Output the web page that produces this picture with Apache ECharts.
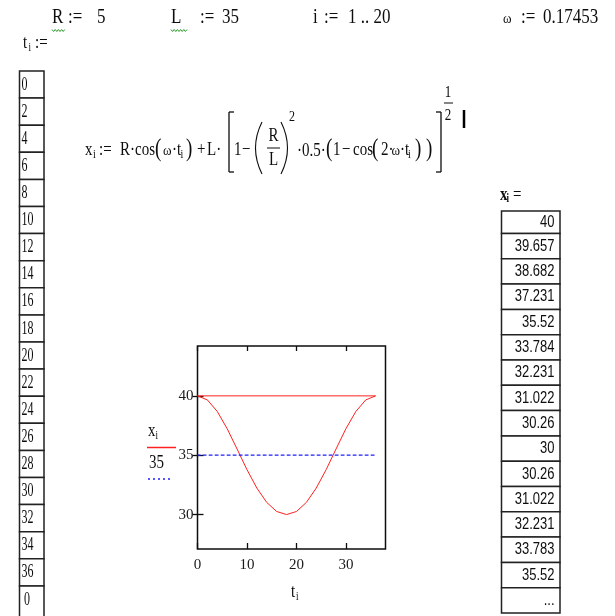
<!DOCTYPE html>
<html>
<head>
<meta charset="utf-8">
<title>Kurbeltrieb x(t)</title>
<script src="https://cdn.jsdelivr.net/npm/echarts@6/dist/echarts.min.js"></script>
<style>
  html, body { margin: 0; padding: 0; background: #fff; }
  #chart { width: 615px; height: 616px; }
</style>
</head>
<body>
<div id="chart"></div>
<script>
// worksheet data
const tValues = [0, 2, 4, 6, 8, 10, 12, 14, 16, 18, 20, 22, 24, 26, 28, 30, 32, 34, 36, 0];
const xValues = [40, 39.657, 38.682, 37.231, 35.52, 33.784, 32.231, 31.022, 30.26, 30,
  30.26, 31.022, 32.231, 33.783, 35.52, 37.231, 38.682, 39.657, 40, 40];
const refValues = [35, 35, 35, 35, 35, 35, 35, 35, 35, 35, 35, 35, 35, 35, 35, 35, 35, 35, 35, 35];
const xTableRows = 15; // rows shown in the x_i result table before "..."
const xTicks = [0, 10, 20, 30];
const yTicks = [30, 35, 40];

const SERIF = '"Liberation Serif", "Times New Roman", serif';
const SANS = '"Liberation Sans", Arial, sans-serif';
const INK = '#0d0d0d';

const chart = echarts.init(document.getElementById('chart'));

// small helpers for the worksheet text around the plot
function txt(text, x, y, size, o) {
  o = o || {};
  const align = o.align || 'left';
  return {
    type: 'text', x: x, y: y, scaleY: o.sy || 1.3, silent: true,
    style: {
      text: text, fill: o.color || INK,
      align: align, textAlign: align,
      verticalAlign: 'middle', textVerticalAlign: 'middle',
      font: (o.bold ? 'bold ' : '') + size + 'px ' + (o.family || SERIF)
    }
  };
}

function seg(x1, y1, x2, y2, w, color, dash) {
  return {
    type: 'line', silent: true,
    shape: { x1: x1, y1: y1, x2: x2, y2: y2 },
    style: { stroke: color || INK, lineWidth: w || 1, lineDash: dash || null }
  };
}

function paren(x1, y1, y2, cx) {
  return {
    type: 'bezierCurve', silent: true,
    shape: { x1: x1, y1: y1, x2: x1, y2: y2, cpx1: cx, cpy1: (y1 + y2) / 2 },
    style: { stroke: INK, lineWidth: 1.1, fill: null }
  };
}

function squiggle(x0, x1, y) {
  const pts = [];
  let up = true;
  for (let x = x0; x <= x1; x += 1.6) {
    pts.push([x, up ? y - 1 : y + 1]);
    up = !up;
  }
  return { type: 'polyline', silent: true, shape: { points: pts }, style: { stroke: '#2a9a2a', lineWidth: 1 } };
}

const g = [];

// top line of definitions
[['R', 52], [':=', 68], ['5', 97], ['L', 171], [':=', 200], ['35', 222],
 ['i', 313], [':=', 324], ['1 .. 20', 348], [':=', 521], ['0.17453', 543]].forEach(function (p) {
  g.push(txt(p[0], p[1], 18, 17, { sy: 1.2 }));
});
g.push(txt('ω', 503, 19, 13, { sy: 1.1 }));
g.push(squiggle(52, 66, 30.5));
g.push(squiggle(171, 187, 30.5));

// t_i :=  header + input table
g.push(txt('t', 23, 43, 15));
g.push(txt('i', 28.5, 48, 9));
g.push(txt(':=', 35, 43, 15));
const tRowH = 27.1;
tValues.forEach(function (v, k) {
  const top = 71 + k * tRowH;
  const last = k === tValues.length - 1;
  g.push({ type: 'rect', silent: true, shape: { x: 19.5, y: top, width: 24.5, height: last ? 40 : tRowH },
    style: { fill: '#fff', stroke: '#222', lineWidth: 1.5 } });
  g.push(txt(String(v), last ? 24 : 21.5, top + 13.6, 12, { sy: 1.6 }));
});

// formula x_i := R cos(w t_i) + L [1 - (R/L)^2 0.5 (1 - cos(2 w t_i))]^(1/2)
const fy = 150;
g.push(txt('x', 85, fy, 15));
g.push(txt('i', 93, fy + 5, 10));
g.push(txt(':=', 99, fy, 15));
g.push(txt('R·cos', 120, fy, 15));
g.push(txt('(', 155, fy - 1, 19, { sy: 1.35 }));
g.push(txt('ω', 163, fy + 1, 13, { sy: 1.1 }));
g.push(txt('·t', 172, fy, 15));
g.push(txt('i', 180.5, fy + 5, 10));
g.push(txt(')', 186, fy - 1, 19, { sy: 1.35 }));
g.push(txt('+', 197, fy, 15));
g.push(txt('L·', 207, fy, 15));
g.push(seg(229, 112, 229, 172, 1.3));
g.push(seg(229, 112, 234, 112, 1.3));
g.push(seg(229, 172, 234, 172, 1.3));
g.push(txt('1', 234, fy, 15));
g.push(txt('−', 242, fy, 15));
g.push(paren(262, 122, 174, 249));
g.push(txt('R', 273.5, 136, 15, { align: 'center' }));
g.push(seg(267, 148, 280, 148, 1));
g.push(txt('L', 273.5, 160, 15, { align: 'center' }));
g.push(paren(281, 122, 174, 294));
g.push(txt('2', 289, 117, 12));
g.push(txt('·0.5·', 297, fy + 1, 15));
g.push(txt('(', 326, fy - 1, 19, { sy: 1.35 }));
g.push(txt('1', 333, fy, 15));
g.push(txt('−', 342, fy, 15));
g.push(txt('cos', 353, fy, 15));
g.push(txt('(', 372, fy - 1, 19, { sy: 1.35 }));
g.push(txt('2·', 381, fy, 15));
g.push(txt('ω', 391.5, fy + 1, 13, { sy: 1.1 }));
g.push(txt('·t', 400, fy, 15));
g.push(txt('i', 408, fy + 5, 10));
g.push(txt(')', 415, fy - 1, 19, { sy: 1.35 }));
g.push(txt(')', 426, fy - 1, 19, { sy: 1.35 }));
g.push(seg(441, 112, 441, 172, 1.3));
g.push(seg(436, 112, 441, 112, 1.3));
g.push(seg(436, 172, 441, 172, 1.3));
g.push(txt('1', 448, 93, 13, { align: 'center' }));
g.push(seg(444, 103, 453, 103, 1));
g.push(txt('2', 448, 116, 13, { align: 'center' }));
g.push(seg(464, 110, 464, 128, 2.5, '#000'));

// x_i =  result table
g.push(txt('x', 500, 195, 15, { bold: true }));
g.push(txt('i', 506.5, 199, 9, { bold: true }));
g.push(txt('=', 513, 195, 15));
for (let k = 0; k <= xTableRows; k++) {
  const top = k === 0 ? 211 : 233.5 + (k - 1) * 25.3;
  const h = k === 0 ? 22.5 : 25.3;
  g.push({ type: 'rect', silent: true, shape: { x: 501.5, y: top, width: 58.5, height: h },
    style: { fill: '#fff', stroke: '#222', lineWidth: 1.5 } });
  const label = k < xTableRows ? String(xValues[k]) : '...';
  g.push(txt(label, 554.5, top + h / 2, 13, { align: 'right', family: SANS, sy: 1.3 }));
}

// plot legend (left of the graph) and axis title
g.push(txt('x', 148, 431, 15));
g.push(txt('i', 155.5, 436, 9));
g.push(seg(147, 447.5, 176, 447.5, 1.5, '#ff2020'));
g.push(txt('35', 149, 463.5, 15, { sy: 1.2 }));
g.push(seg(148, 479, 173, 479, 1.3, '#1f1fff', [2, 3]));
g.push(txt('t', 291, 592, 15));
g.push(txt('i', 296, 597, 9));

const tickStyle = { color: INK, width: 1.3 };
const labelStyle = { color: '#1a1a1a', fontFamily: SERIF, fontSize: 15 };

const option = {
  animation: false,
  backgroundColor: '#fff',
  grid: {
    left: 197.5, top: 346, width: 188, height: 203,
    show: true, borderColor: INK, borderWidth: 1.5, backgroundColor: 'transparent'
  },
  xAxis: [
    {
      type: 'value', min: 0, max: 38, position: 'bottom',
      axisLine: { show: false }, splitLine: { show: false },
      axisTick: { inside: true, length: 6, customValues: xTicks, lineStyle: tickStyle },
      axisLabel: Object.assign({ customValues: xTicks, margin: 9 }, labelStyle)
    },
    {
      type: 'value', min: 0, max: 38, position: 'top',
      axisLine: { show: false }, splitLine: { show: false },
      axisTick: { inside: true, length: 5, customValues: xTicks, lineStyle: tickStyle },
      axisLabel: { show: false }
    }
  ],
  yAxis: [
    {
      type: 'value', min: 27.1, max: 44.2, position: 'left',
      axisLine: { show: false }, splitLine: { show: false },
      axisTick: { inside: true, length: 6, customValues: yTicks, lineStyle: tickStyle },
      axisLabel: Object.assign({ customValues: yTicks, margin: 4 }, labelStyle)
    },
    {
      type: 'value', min: 27.1, max: 44.2, position: 'right',
      axisLine: { show: false }, splitLine: { show: false },
      axisTick: { inside: true, length: 5, customValues: yTicks, lineStyle: tickStyle },
      axisLabel: { show: false }
    }
  ],
  series: [
    {
      name: 'x_i', type: 'line', xAxisIndex: 0, yAxisIndex: 0,
      data: tValues.map(function (t, k) { return [t, xValues[k]]; }),
      showSymbol: false, symbol: 'none',
      lineStyle: { color: '#ff2020', width: 1 }
    },
    {
      name: '35', type: 'line', xAxisIndex: 0, yAxisIndex: 0,
      data: tValues.map(function (t, k) { return [t, refValues[k]]; }),
      showSymbol: false, symbol: 'none',
      lineStyle: { color: '#1f1fff', width: 1.2, type: [3, 3] }
    }
  ],
  graphic: { elements: g }
};

chart.setOption(option);
window.addEventListener('resize', function () { chart.resize(); });
</script>
</body>
</html>
